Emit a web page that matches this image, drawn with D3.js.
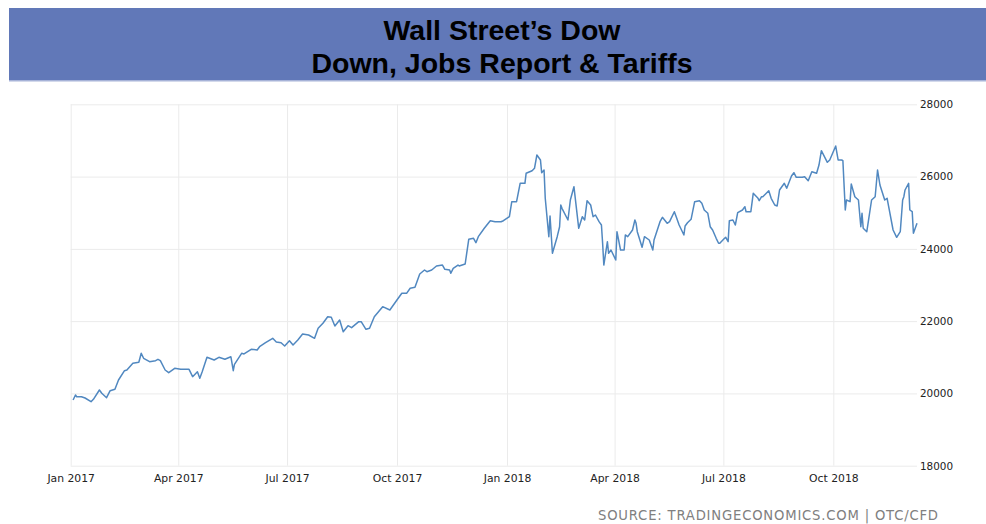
<!DOCTYPE html>
<html>
<head>
<meta charset="utf-8">
<script src="https://cdn.jsdelivr.net/npm/d3@7"></script>
<style>
  body { margin: 0; background: #fff; }
  svg { display: block; }
  .grid line { stroke: #ebebeb; }
  .grid .domain { display: none; }
  .tick text { font-family: "DejaVu Sans", sans-serif; fill: #222; }
</style>
</head>
<body>
<script>
var width = 986,
  height = 524;

// chart text
var titleLines = ["Wall Street\u2019s Dow", "Down, Jobs Report & Tariffs"];
var sourceText = "SOURCE: TRADINGECONOMICS.COM | OTC/CFD";

// axis ticks
var yTicks = [18000, 20000, 22000, 24000, 26000, 28000];
var xTicks = ["2017-01-01", "2017-04-01", "2017-07-01", "2017-10-01",
  "2018-01-01", "2018-04-01", "2018-07-01", "2018-10-01"];

// Dow Jones closes
var dates = [
  "2017-01-03", "2017-01-05", "2017-01-06", "2017-01-10", "2017-01-13", "2017-01-18", "2017-01-20", "2017-01-25",
  "2017-01-27", "2017-01-31", "2017-02-03", "2017-02-07", "2017-02-10", "2017-02-15", "2017-02-17", "2017-02-22",
  "2017-02-27", "2017-03-01", "2017-03-03", "2017-03-08", "2017-03-13", "2017-03-15", "2017-03-17", "2017-03-21",
  "2017-03-24", "2017-03-29", "2017-04-03", "2017-04-10", "2017-04-13", "2017-04-17", "2017-04-19", "2017-04-21",
  "2017-04-25", "2017-05-01", "2017-05-05", "2017-05-10", "2017-05-15", "2017-05-17", "2017-05-18", "2017-05-24",
  "2017-05-26", "2017-06-01", "2017-06-06", "2017-06-08", "2017-06-13", "2017-06-19", "2017-06-22", "2017-06-26",
  "2017-06-29", "2017-07-03", "2017-07-06", "2017-07-10", "2017-07-14", "2017-07-19", "2017-07-24", "2017-07-27",
  "2017-07-31", "2017-08-04", "2017-08-07", "2017-08-10", "2017-08-14", "2017-08-17", "2017-08-21", "2017-08-24",
  "2017-08-30", "2017-09-01", "2017-09-05", "2017-09-08", "2017-09-12", "2017-09-19", "2017-09-25", "2017-09-29",
  "2017-10-05", "2017-10-09", "2017-10-12", "2017-10-16", "2017-10-20", "2017-10-24", "2017-10-26", "2017-10-30",
  "2017-11-03", "2017-11-08", "2017-11-10", "2017-11-14", "2017-11-15", "2017-11-17", "2017-11-21", "2017-11-22",
  "2017-11-27", "2017-11-30", "2017-12-04", "2017-12-06", "2017-12-08", "2017-12-13", "2017-12-18", "2017-12-22",
  "2017-12-27", "2017-12-29",
  "2018-01-03", "2018-01-05", "2018-01-09", "2018-01-12", "2018-01-16", "2018-01-17", "2018-01-22", "2018-01-24",
  "2018-01-26", "2018-01-29", "2018-01-30", "2018-02-01", "2018-02-02", "2018-02-05", "2018-02-06", "2018-02-08",
  "2018-02-12", "2018-02-14", "2018-02-15", "2018-02-16", "2018-02-21", "2018-02-23", "2018-02-26", "2018-03-02",
  "2018-03-05", "2018-03-07", "2018-03-09", "2018-03-12", "2018-03-14", "2018-03-16", "2018-03-19", "2018-03-21",
  "2018-03-22", "2018-03-23", "2018-03-26", "2018-03-27", "2018-03-29", "2018-04-02", "2018-04-03", "2018-04-06",
  "2018-04-09", "2018-04-10", "2018-04-12", "2018-04-16", "2018-04-18", "2018-04-19", "2018-04-20", "2018-04-24",
  "2018-04-26", "2018-04-30", "2018-05-03", "2018-05-04", "2018-05-09", "2018-05-11", "2018-05-15", "2018-05-17",
  "2018-05-21", "2018-05-23", "2018-05-25", "2018-05-29", "2018-05-30", "2018-06-01", "2018-06-04", "2018-06-07",
  "2018-06-11", "2018-06-13", "2018-06-15", "2018-06-18", "2018-06-20", "2018-06-22", "2018-06-25", "2018-06-27",
  "2018-06-28", "2018-07-02", "2018-07-03", "2018-07-05", "2018-07-06", "2018-07-09", "2018-07-11", "2018-07-13",
  "2018-07-17", "2018-07-19", "2018-07-20", "2018-07-24", "2018-07-26", "2018-07-30", "2018-07-31", "2018-08-02",
  "2018-08-03", "2018-08-08", "2018-08-10", "2018-08-13", "2018-08-15", "2018-08-17", "2018-08-21", "2018-08-23",
  "2018-08-27", "2018-08-29", "2018-08-31", "2018-09-05", "2018-09-07", "2018-09-10", "2018-09-13", "2018-09-17",
  "2018-09-19", "2018-09-21", "2018-09-26", "2018-09-28", "2018-10-03", "2018-10-05", "2018-10-08", "2018-10-09",
  "2018-10-11", "2018-10-12", "2018-10-15", "2018-10-16", "2018-10-19", "2018-10-22", "2018-10-24", "2018-10-25",
  "2018-10-26", "2018-10-29", "2018-11-02", "2018-11-05", "2018-11-07", "2018-11-09", "2018-11-13", "2018-11-15",
  "2018-11-20", "2018-11-23", "2018-11-26", "2018-11-28", "2018-11-29", "2018-11-30", "2018-12-03", "2018-12-04",
  "2018-12-06", "2018-12-07", "2018-12-10"
];

var closes = [
  19818, 19956, 19909, 19909, 19873, 19771, 19837, 20095,
  20003, 19882, 20075, 20114, 20371, 20629, 20648, 20833,
  20861, 21110, 20972, 20878, 20905, 20944, 20905, 20648,
  20573, 20695, 20667, 20667, 20463, 20601, 20418, 20601,
  21000, 20925, 21000, 20944, 21016, 20629, 20806, 21110,
  21091, 21221, 21202, 21293, 21403, 21525, 21423, 21403,
  21312, 21459, 21340, 21478, 21644, 21616, 21525, 21802,
  21940, 22123, 22106, 21866, 22032, 21708, 21874, 21819,
  21985, 21985, 21774, 21802, 22123, 22400, 22308, 22494,
  22770, 22770, 22909, 22936, 23304, 23415, 23368, 23415,
  23526, 23553, 23434, 23415, 23324, 23462, 23553, 23526,
  23581, 24265, 24292, 24171, 24337, 24569, 24779, 24752,
  24752, 24779,
  24890, 25305, 25305, 25814, 25814, 26091, 26163, 26229,
  26597, 26459, 26107, 26182, 25399, 24337, 24909, 23877,
  24337, 24613, 25214, 25122, 24799, 25352, 25720, 24569,
  24890, 24799, 25333, 25214, 24890, 24937, 24752, 24660,
  24154, 23553, 24198, 23877, 23968, 23692, 24475, 23968,
  23968, 24384, 24337, 24522, 24799, 24707, 24475, 24043,
  24337, 24245, 23968, 24245, 24752, 24873, 24707, 24752,
  25028, 24846, 24660, 24384, 24633, 24724, 24818, 25305,
  25333, 25261, 25075, 24984, 24613, 24522, 24292, 24154,
  24154, 24292, 24320, 24198, 24779, 24799, 24660, 25000,
  25075, 25167, 25028, 25028, 25537, 25399, 25333, 25443,
  25443, 25609, 25399, 25214, 25186, 25629, 25814, 25676,
  26016, 26107, 25980, 25980, 25997, 25886, 26135, 26091,
  26320, 26716, 26395, 26459, 26846, 26459, 26459, 26440,
  25075, 25352, 25305, 25795, 25443, 25352, 24613, 24984,
  24569, 24475, 25352, 25443, 26182, 25767, 25352, 25399,
  24522, 24320, 24475, 25352, 25443, 25629, 25814, 25075,
  25028, 24431, 24707
];

var parseDate = d3.timeParse("%Y-%m-%d");

var data = dates.map((d, i) => ({ date: parseDate(d), value: closes[i] }));

var svg = d3.select("body").append("svg")
  .attr("width", width)
  .attr("height", height);

// title band
svg.append("rect")
  .attr("x", 9)
  .attr("y", 8)
  .attr("width", width - 9)
  .attr("height", 72)
  .attr("fill", "#6178b8");

svg.append("rect")
  .attr("x", 9)
  .attr("y", 80)
  .attr("width", width - 9)
  .attr("height", 1.5)
  .attr("fill", "#a7b3d8");

svg.selectAll(".title")
  .data(titleLines)
  .enter()
  .append("text")
  .attr("class", "title")
  .attr("x", 502)
  .attr("y", (d, i) => 40 + i * 33)
  .attr("text-anchor", "middle")
  .style("font-family", "'Liberation Sans', Arial, sans-serif")
  .style("font-weight", "bold")
  .style("font-size", "28.5px")
  .attr("fill", "#000")
  .text(d => d);

// plot area
var plotLeft = 70.7, plotRight = 917, plotTop = 104.3, plotBottom = 465.7;

var x = d3.scaleTime()
  .domain([parseDate("2017-01-01"), parseDate("2018-12-10")])
  .range([plotLeft, plotRight]);

var y = d3.scaleLinear()
  .domain([18000, 28000])
  .range([plotBottom, plotTop]);

var xAxis = d3.axisBottom(x)
  .tickValues(xTicks.map(parseDate))
  .tickFormat(d3.timeFormat("%b %Y"))
  .tickSize(-(plotBottom - plotTop))
  .tickPadding(8.5);

var yAxis = d3.axisRight(y)
  .tickValues(yTicks)
  .tickFormat(d3.format("d"))
  .tickSize(-(plotRight - plotLeft))
  .tickPadding(3);

svg.append("g")
  .attr("class", "grid x")
  .attr("transform", "translate(0," + plotBottom + ")")
  .call(xAxis)
  .selectAll("text")
  .style("font-size", "10.8px");

svg.append("g")
  .attr("class", "grid y")
  .attr("transform", "translate(" + plotRight + ",0)")
  .call(yAxis)
  .selectAll("text")
  .style("font-size", "10.4px");

var line = d3.line()
  .x(d => x(d.date))
  .y(d => y(d.value));

svg.append("path")
  .datum(data)
  .attr("fill", "none")
  .attr("stroke", "#5188c0")
  .attr("stroke-width", 1.5)
  .attr("stroke-linejoin", "round")
  .attr("d", line);

// source line
svg.append("text")
  .attr("x", 598)
  .attr("y", 519.5)
  .attr("textLength", 340)
  .attr("lengthAdjust", "spacing")
  .style("font-family", "'DejaVu Sans', sans-serif")
  .style("font-size", "13.2px")
  .attr("fill", "#808080")
  .text(sourceText);
</script>
</body>
</html>
